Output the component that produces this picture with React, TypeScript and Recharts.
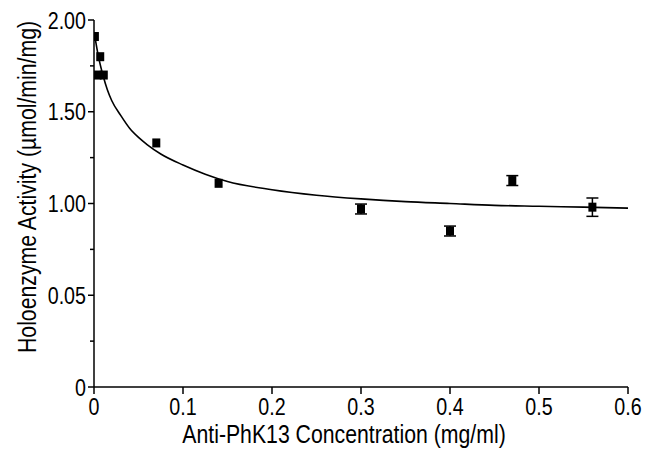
import {
  ComposedChart,
  Line,
  Scatter,
  ErrorBar,
  XAxis,
  YAxis,
  Label,
} from "recharts";

// measured points (mg/ml, umol/min/mg)
const pointX = [0.001, 0.007, 0.004, 0.011, 0.07, 0.14, 0.3, 0.4, 0.47, 0.56];
const pointY = [1.91, 1.8, 1.7, 1.7, 1.33, 1.11, 0.97, 0.85, 1.125, 0.98];
const pointErr = [0, 0, 0, 0, 0, 0, 0.027, 0.027, 0.027, 0.05];

// fitted curve
const curveX = [0.001, 0.005, 0.01, 0.015, 0.02, 0.03, 0.04, 0.05, 0.06, 0.075, 0.1, 0.125, 0.15, 0.2, 0.25, 0.3, 0.35, 0.4, 0.45, 0.5, 0.55, 0.6];
const curveY = [1.91, 1.8, 1.7, 1.62, 1.56, 1.48, 1.41, 1.36, 1.32, 1.27, 1.21, 1.16, 1.12, 1.075, 1.045, 1.025, 1.01, 1.0, 0.99, 0.985, 0.98, 0.975];

const xTicks = [0, 0.1, 0.2, 0.3, 0.4, 0.5, 0.6];
const xTickLabels = ["0", "0.1", "0.2", "0.3", "0.4", "0.5", "0.6"];
const yTicks = [0, 0.25, 0.5, 0.75, 1, 1.25, 1.5, 1.75, 2];
const yTickLabels = ["0", "", "0.05", "", "1.00", "", "1.50", "", "2.00"];

const points = pointX.map((x, i) => ({ x, y: pointY[i], err: pointErr[i] }));
const curve = curveX.map((x, i) => ({ x, y: curveY[i] }));

const FONT = '"Liberation Sans", Arial, Helvetica, sans-serif';
const SQUEEZE = 0.82; // the figure uses a narrow Helvetica

function XTick(props: any) {
  const { x, y, index } = props;
  return (
    <text
      transform={`translate(${x},${y}) scale(${SQUEEZE},1)`}
      dy="0.71em"
      textAnchor="middle"
      fontSize={24}
      fontFamily={FONT}
      fill="#000"
    >
      {xTickLabels[index]}
    </text>
  );
}

function YTick(props: any) {
  const { x, y, index } = props;
  const label = yTickLabels[index];
  const axisX = x + 8;
  const len = label ? 6 : 4;
  return (
    <g>
      <line x1={axisX - len} x2={axisX} y1={y} y2={y} stroke="#000" strokeWidth={1.5} />
      {label && (
        <text
          transform={`translate(${x},${y}) scale(${SQUEEZE},1)`}
          dy="0.36em"
          textAnchor="end"
          fontSize={24}
          fontFamily={FONT}
          fill="#000"
        >
          {label}
        </text>
      )}
    </g>
  );
}

function SquareDot(props: any) {
  const { cx, cy } = props;
  return <rect x={cx - 4} y={cy - 4.5} width={8} height={9} fill="#000" />;
}

export default function App() {
  return (
    <div style={{ position: "absolute", left: 0, top: 0, background: "#fff" }}>
      <ComposedChart width={649} height={449} margin={{ top: 20, right: 21, bottom: 0, left: 0 }}>
        <XAxis
          dataKey="x"
          type="number"
          domain={[0, 0.6]}
          ticks={xTicks}
          height={62}
          tickSize={7}
          tickMargin={4}
          axisLine={{ stroke: "#000", strokeWidth: 1.5 }}
          tickLine={{ stroke: "#000", strokeWidth: 1.5 }}
          tick={<XTick />}
          interval={0}
          allowDataOverflow
        >
          <Label
            content={() => (
              <text
                transform="translate(344,443) scale(0.85,1)"
                textAnchor="middle"
                fontSize={25}
                fontFamily={FONT}
                fill="#000"
              >
                Anti-PhK13 Concentration (mg/ml)
              </text>
            )}
          />
        </XAxis>
        <YAxis
          dataKey="y"
          type="number"
          domain={[0, 2]}
          ticks={yTicks}
          width={94}
          tickSize={6}
          tickMargin={2}
          axisLine={{ stroke: "#000", strokeWidth: 1.5 }}
          tickLine={false}
          tick={<YTick />}
          interval={0}
        >
          <Label
            content={() => (
              <text
                transform="translate(36,187) rotate(-90) scale(0.85,1)"
                textAnchor="middle"
                fontSize={25}
                fontFamily={FONT}
                fill="#000"
              >
                Holoenzyme Activity (µmol/min/mg)
              </text>
            )}
          />
        </YAxis>
        <Line
          data={curve}
          dataKey="y"
          type="monotone"
          stroke="#000"
          strokeWidth={1.6}
          dot={false}
          activeDot={false}
          isAnimationActive={false}
        />
        <Scatter data={points} dataKey="y" shape={<SquareDot />} isAnimationActive={false}>
          <ErrorBar dataKey="err" direction="y" width={6} stroke="#000" strokeWidth={1.5} />
        </Scatter>
      </ComposedChart>
    </div>
  );
}
